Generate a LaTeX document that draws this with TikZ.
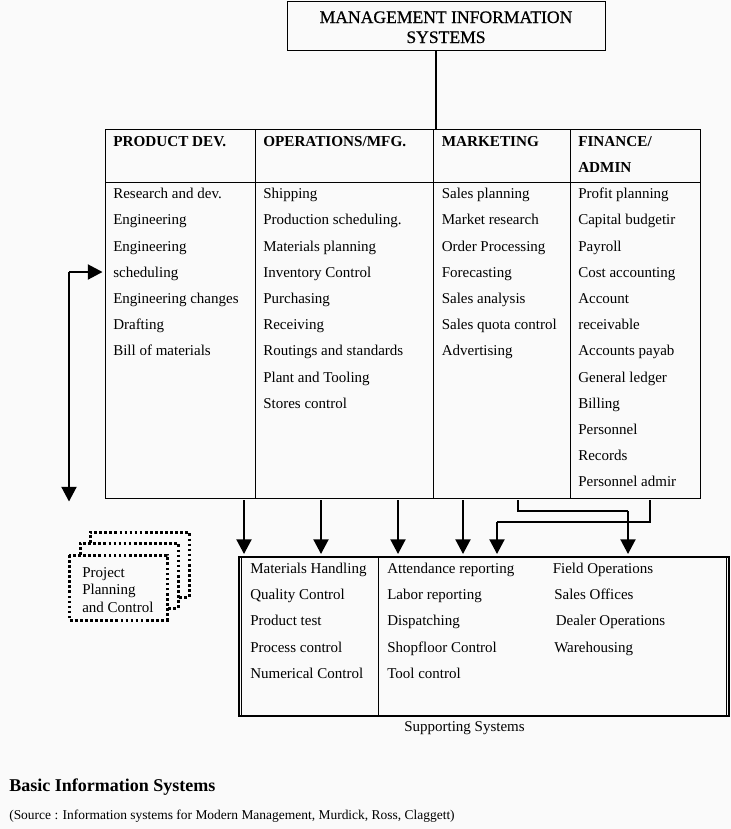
\documentclass[tikz,border=0pt]{standalone}
\usepackage{fontspec}
\setmainfont{Liberation Serif}
\usetikzlibrary{arrows.meta}
\definecolor{paper}{HTML}{FAFAFA}
\tikzset{
	cell/.style={draw,line width=0.75pt,rectangle,inner sep=0pt,outer sep=0pt,anchor=north west},
	item/.style={anchor=base west,inner sep=0pt,font=\fontsize{11.25}{13}\selectfont},
	head/.style={item,font=\fontsize{11.4}{13}\selectfont\bfseries},
	title/.style={item,anchor=base,font=\fontsize{13.2}{15}\selectfont\addfontfeature{FakeBold=0.5}},
	wire/.style={line width=1.5pt},
	feed/.style={wire,-{Triangle[width=11.25pt,length=11pt]},shorten >=2.25pt},
	spot/.style={line width=2.25pt,dash pattern=on 2pt off 1.8pt}
}
\begin{document}
\begin{tikzpicture}[x=0.75pt,y=-0.75pt,line join=miter]
	\fill[paper] (0,0) rectangle (731,829);
	\useasboundingbox (0,0) rectangle (731,829);
	% top box
	\node[cell,minimum width=238.5pt,minimum height=36.75pt] (mis) at (287,1) {};
	\node[title] (misa) at (446,23) {MANAGEMENT INFORMATION};
	\node[title] (misb) at (446,43) {SYSTEMS};
	% table
	\node[cell,minimum width=446.25pt,minimum height=276.75pt] (tbl) at (105,129) {};
	\draw[line width=0.75pt] (tbl.west |- 0,182)--(tbl.east |- 0,182);
	\foreach \c in {255,433,570} \draw[line width=0.75pt] (\c,129)--(\c,498);
	\draw[wire] (mis.south -| 436,0)--(tbl.north -| 436,0);
	\node[head] (hpd) at (113,146) {PRODUCT DEV.};
	\node[head] (hop) at (263,146) {OPERATIONS/MFG.};
	\node[head] (hmk) at (441.5,146) {MARKETING};
	\node[head] (hfa) at (578,146) {FINANCE/};
	\node[head] (hfb) at (578,172) {ADMIN};
	\foreach \t [count=\i from 0] in {Research and dev.,Engineering,Engineering,scheduling,Engineering changes,Drafting,Bill of materials}
		\node[item] (pd\i) at (113,198.6+26.2*\i) {\t};
	\foreach \t [count=\i from 0] in {Shipping,Production scheduling.,Materials planning,Inventory Control,Purchasing,Receiving,Routings and standards,Plant and Tooling,Stores control}
		\node[item] (op\i) at (263,198.6+26.2*\i) {\t};
	\foreach \t [count=\i from 0] in {Sales planning,Market research,Order Processing,Forecasting,Sales analysis,Sales quota control,Advertising}
		\node[item] (mk\i) at (441.5,198.6+26.2*\i) {\t};
	\foreach \t [count=\i from 0] in {Profit planning,Capital budgetir,Payroll,Cost accounting,Account,receivable,Accounts payab,General ledger,Billing,Personnel,Records,Personnel admir}
		\node[item] (fa\i) at (578,198.6+26.2*\i) {\t};
	% supporting systems
	\node[cell,line width=1.5pt,minimum width=367.5pt,minimum height=119.25pt] (sup) at (239,557) {};
	\draw[line width=0.75pt] (241.5,557)--(241.5,716) (726.5,557)--(726.5,716) (378.5,557)--(378.5,716);
	\foreach \t [count=\i from 0] in {Materials Handling,Quality Control,Product test,Process control,Numerical Control}
		\node[item] (ms\i) at (250,573.4+26.2*\i) {\t};
	\foreach \t [count=\i from 0] in {Attendance reporting,Labor reporting,Dispatching,Shopfloor Control,Tool control}
		\node[item] (lb\i) at (387,573.4+26.2*\i) {\t};
	\node[item] (fo0) at (552.5,573.4) {Field Operations};
	\node[item] (fo1) at (554,599.6) {Sales Offices};
	\node[item] (fo2) at (555.5,625.8) {Dealer Operations};
	\node[item] (fo3) at (554,652) {Warehousing};
	\node[item] (supt) at (404,731) {Supporting Systems};
	% arrows
	\coordinate (fbk) at (69,272);
	\draw[feed,shorten >=0pt] (fbk)--(fbk |- 0,501.5);
	\draw[feed,shorten >=0pt] (fbk)--(102.5,272);
	\foreach \x in {244,321,398,463}
		\draw[feed,shorten <=1.5pt] (tbl.south -| \x,0)--(sup.north -| \x,0);
	\draw[wire,shorten <=1.5pt] (518,498)--(518,511)--(628,511);
	\draw[feed] (628,511)--(sup.north -| 628,0);
	\draw[wire,shorten <=1.5pt] (650,498)--(650,522)--(497,522);
	\draw[feed] (497,522)--(sup.north -| 497,0);
	% project stack
	\draw[spot] (69,555) rectangle (167,620);
	\draw[spot] (80,555)--(80,543)--(178,543)--(178,608)--(167,608);
	\draw[spot] (90,543)--(90,532)--(189,532)--(189,597)--(178,597);
	\node[item] (plana) at (82,577) {Project};
	\node[item] (planb) at (82,594.5) {Planning};
	\node[item] (planc) at (82,612) {and Control};
	% caption
	\node[item,font=\fontsize{13.5}{15}\selectfont\bfseries] (cap) at (9,791.5) {Basic Information Systems};
	\node[item,font=\fontsize{10.1}{12}\selectfont] (src) at (9,819) {(Source : Information systems for Modern Management, Murdick, Ross, Claggett)};
\end{tikzpicture}
\end{document}
